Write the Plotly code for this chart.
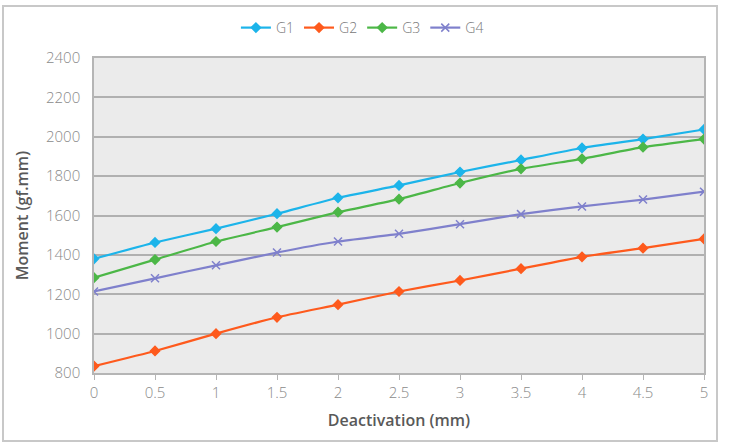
import plotly.graph_objects as go

deactivation = [0, 0.5, 1, 1.5, 2, 2.5, 3, 3.5, 4, 4.5, 5]
g1 = [1380, 1463, 1533, 1609, 1690, 1753, 1821, 1882, 1943, 1988, 2037]
g2 = [835, 912, 1000, 1083, 1147, 1214, 1270, 1330, 1390, 1434, 1481]
g3 = [1284, 1376, 1468, 1541, 1617, 1683, 1765, 1837, 1888, 1947, 1988]
g4 = [1214, 1281, 1347, 1412, 1468, 1507, 1556, 1607, 1646, 1681, 1721]

series = [
    ("G1", g1, "#1cb4ea", "diamond", 7),
    ("G2", g2, "#fe5a1d", "diamond", 7),
    ("G3", g3, "#4cb747", "diamond", 7),
    ("G4", g4, "#7f80cc", "x-thin-open", 8),
]

fig = go.Figure()
for name, vals, color, sym, sz in series:
    fig.add_trace(go.Scatter(
        x=deactivation, y=vals, name=name, mode="lines+markers",
        line=dict(color=color, width=2.2, shape="spline", smoothing=0.4),
        marker=dict(symbol=sym, size=sz, color=color,
                    line=dict(color=color, width=1.5)),
    ))

L, R, T, B = 94, 31, 58, 71
W, H = 735, 444
pw, ph = W - L - R, H - T - B
FONT = "Open Sans, sans-serif"

fig.update_layout(
    width=W, height=H,
    margin=dict(l=L, r=R, t=T, b=B),
    paper_bgcolor="white",
    plot_bgcolor="#ebebeb",
    font=dict(family=FONT, color="#8a8a8a", size=14),
    showlegend=True,
    legend=dict(orientation="h", x=0.44, xanchor="center",
                y=(ph + T - 28) / ph, yanchor="middle",
                font=dict(family=FONT, size=14, color="#777777", weight=300),
                itemwidth=30, tracegroupgap=0),
    xaxis=dict(range=[0, 5], dtick=0.5, tick0=0,
               showgrid=False, zeroline=False,
               showline=True, linecolor="#b5b5b5", linewidth=1.5, mirror=True,
               ticks="outside", ticklen=5, tickcolor="#b5b5b5",
               tickfont=dict(family=FONT, size=15, color="#8a8a8a", weight=300),
               title=dict(text="Deactivation (mm)", standoff=14,
                          font=dict(family=FONT, size=16, color="#595959", weight=600))),
    yaxis=dict(range=[800, 2400], dtick=200,
               showgrid=True, gridcolor="#b0b0b0", gridwidth=1.5,
               zeroline=False,
               showline=True, linecolor="#b5b5b5", linewidth=1.5, mirror=True,
               ticks="", ticklabelstandoff=9,
               tickfont=dict(family=FONT, size=15, color="#8a8a8a", weight=300),
               title=dict(text="Moment (gf.mm)", standoff=13,
                          font=dict(family=FONT, size=16, color="#595959", weight=600))),
)

# outer chart border
fig.add_shape(type="rect", xref="paper", yref="paper",
              x0=(3 - L) / pw, x1=(717 - L) / pw,
              y0=(T + ph - 441) / ph, y1=(T + ph - 6) / ph,
              line=dict(color="#c8c8c8", width=2), layer="below")

fig.write_html("out.html")
